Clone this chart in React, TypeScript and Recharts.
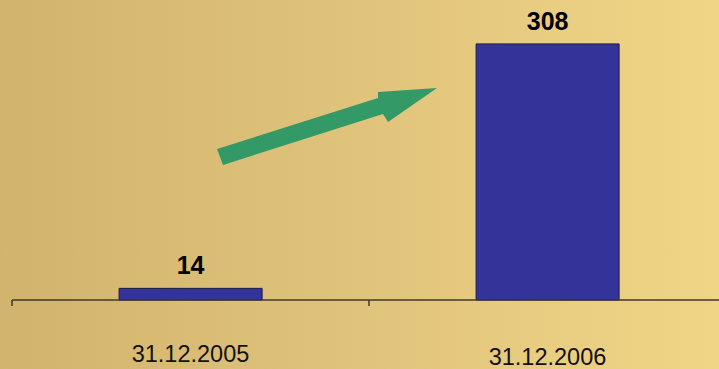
import * as React from "react";
import { BarChart, Bar, XAxis, YAxis, LabelList } from "recharts";

// values
const dates = ["31.12.2005", "31.12.2006"];
const counts = [14, 308];
const labelShift = [0, 3];

const W = 740;
const H = 369;
const MARGIN = { top: 9, right: 14, left: 12, bottom: 0 };
const BAND = (W - MARGIN.left - MARGIN.right) / dates.length;

const data = dates.map((date, i) => ({ date, value: counts[i] }));

// tick marks sit on the category boundaries, labels under the centre
// eslint-disable-next-line @typescript-eslint/no-explicit-any
function DateTick({ x, y, payload, index }: any) {
  const left = x - BAND / 2;
  const last = index === dates.length - 1;
  return (
    <g>
      <line x1={left} x2={left} y1={y} y2={y + 6} stroke="#3d3a2c" strokeWidth={1.5} />
      {last && (
        <line x1={x + BAND / 2} x2={x + BAND / 2} y1={y} y2={y + 6} stroke="#3d3a2c" strokeWidth={1.5} />
      )}
      <text
        x={x}
        y={y + 62 + (labelShift[index] || 0)}
        textAnchor="middle"
        fontSize={23.5}
        fill="#111"
        fontFamily="'Liberation Sans', Arial, sans-serif"
      >
        {payload.value}
      </text>
    </g>
  );
}

export default function App() {
  return (
    <div
      style={{
        position: "relative",
        width: 719,
        height: H,
        overflow: "hidden",
        background: "linear-gradient(to right, #d1b36d 0%, #dfc27a 45%, #f0d586 100%)",
      }}
    >
      <style>{`body{margin:0}`}</style>
      <BarChart width={W} height={H} data={data} margin={MARGIN} barCategoryGap="30%">
        <YAxis hide domain={[0, 350]} />
        <XAxis
          dataKey="date"
          height={69}
          tickSize={0}
          tickMargin={0}
          tickLine={false}
          axisLine={{ stroke: "#3d3a2c", strokeWidth: 1.5 }}
          tick={<DateTick />}
          interval={0}
        />
        <Bar
          dataKey="value"
          fill="#333399"
          stroke="#1c1c45"
          strokeWidth={1}
          isAnimationActive={false}
        >
          <LabelList
            dataKey="value"
            position="top"
            offset={14}
            fill="#000"
            fontSize={25}
            fontWeight="bold"
            fontFamily="'Liberation Sans', Arial, sans-serif"
          />
        </Bar>
      </BarChart>
      {/* growth arrow annotation */}
      <svg
        width={719}
        height={H}
        style={{ position: "absolute", left: 0, top: 0, pointerEvents: "none" }}
      >
        <polygon
          points="217,149 378,98 378,92 437,88 388,122 383,114 223,165"
          fill="#339966"
        />
      </svg>
    </div>
  );
}
